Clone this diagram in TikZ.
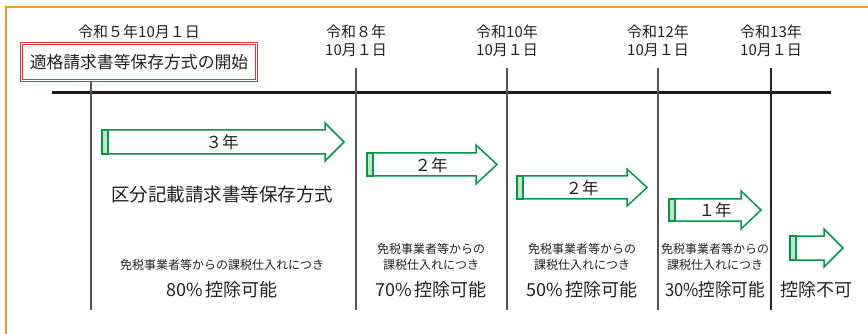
\documentclass[tikz,border=0pt]{standalone}
\usepackage{fontspec}
\setmainfont{Noto Sans CJK JP}
\definecolor{frameor}{HTML}{F39A2B}
\definecolor{grn}{HTML}{00984A}
\definecolor{lgrn}{HTML}{C3E3C8}
\definecolor{txt}{HTML}{231F20}
\definecolor{redb}{HTML}{E8333A}
\definecolor{tickc}{HTML}{555555}
\newcommand{\grarrow}[6]{%
  \draw[arrowline] (#1,#4) -- (#2,#4) -- (#2,#4-#6) -- (#3,{(#4+#5)/2}) -- (#2,#5+#6) -- (#2,#5) -- (#1,#5) -- cycle;
  \draw[stripe] (#1,#4) rectangle (#1+6,#5);}
\begin{document}
\begin{tikzpicture}[x=1pt,y=-1pt,
  every node/.style={text=txt,inner sep=0pt},
  datelbl/.style={align=center,font=\fontsize{15}{18}\selectfont},
  redbox/.style={draw=redb,double=white,double distance=1.2pt,line width=0.7pt,
    minimum width=235pt,minimum height=37pt,font=\fontsize{16.8}{20}\selectfont},
  arrowline/.style={draw=grn,line width=1.5pt,fill=white,line join=miter},
  stripe/.style={draw=grn,line width=1.2pt,fill=lgrn},
  yrlbl/.style={font=\fontsize{16.5}{20}\selectfont},
  smalllbl/.style={align=center,font=\fontsize{12}{15.5}\selectfont},
  biglbl/.style={font=\fontsize{18}{22}\selectfont},
  tick/.style={draw=tickc,line width=1.4pt},
  timeline/.style={draw=black!90,line width=3pt}]
\useasboundingbox (0,0) rectangle (868,334);
% orange frame (top and left)
\draw[frameor,line width=2.2pt] (6,334) -- (6,7) -- (868,7);
% date labels
\node[datelbl] (d1) at (139,32) {令和５年10月１日};
\node[redbox] (start) at (139,62) {適格請求書等保存方式の開始};
\node[datelbl] (d2) at (356,41) {令和８年\\10月１日};
\node[datelbl] (d3) at (507,41) {令和10年\\10月１日};
\node[datelbl] (d4) at (658,41) {令和12年\\10月１日};
\node[datelbl] (d5) at (771,41) {令和13年\\10月１日};
% timeline
\coordinate (tlL) at (52,93);
\coordinate (tlR) at (831,93);
\draw[timeline] (tlL) -- (tlR);
% ticks
\coordinate (b1) at (91,310);
\coordinate (t2) at (356,68); \coordinate (b2) at (356,310);
\coordinate (t3) at (507,68); \coordinate (b3) at (507,310);
\coordinate (t4) at (658,68); \coordinate (b4) at (658,310);
\coordinate (t5) at (771,68); \coordinate (b5) at (771,310);
\draw[tick] (start.south -| b1) -- (b1);
\draw[tick] (t2) -- (b2);
\draw[tick] (t3) -- (b3);
\draw[tick] (t4) -- (b4);
\draw[tick,draw=black!85,line width=1.2pt] (t5) -- (b5);
% arrows
\grarrow{102}{325}{344}{130}{154}{7}
\node[yrlbl] (y1) at (222,142) {３年};
\grarrow{367}{476}{497}{153}{176}{8}
\node[yrlbl] (y2) at (431,165) {２年};
\grarrow{517}{627}{647}{176}{199}{7}
\node[yrlbl] (y3) at (582,188) {２年};
\grarrow{669}{741}{761}{199}{221}{8}
\node[yrlbl] (y4) at (715,210) {１年};
\grarrow{790}{824}{843}{236}{260}{7}
% texts
\node[font=\fontsize{18.5}{22}\selectfont] (kubun) at (222,194) {区分記載請求書等保存方式};
\node[smalllbl] (s1) at (222,265) {免税事業者等からの課税仕入れにつき};
\node[biglbl] (p1) at (222,290) {80\%\,控除可能};
\node[smalllbl] (s2) at (431,257) {免税事業者等からの\\課税仕入れにつき};
\node[biglbl] (p2) at (431,290) {70\%\,控除可能};
\node[smalllbl] (s3) at (582,257) {免税事業者等からの\\課税仕入れにつき};
\node[biglbl] (p3) at (582,290) {50\%\,控除可能};
\node[smalllbl] (s4) at (715,257) {免税事業者等からの\\課税仕入れにつき};
\node[biglbl] (p4) at (715,290) {\scalebox{0.92}[1]{30\%控除可能}};
\node[biglbl] (p5) at (816,290) {控除不可};
\end{tikzpicture}
\end{document}
